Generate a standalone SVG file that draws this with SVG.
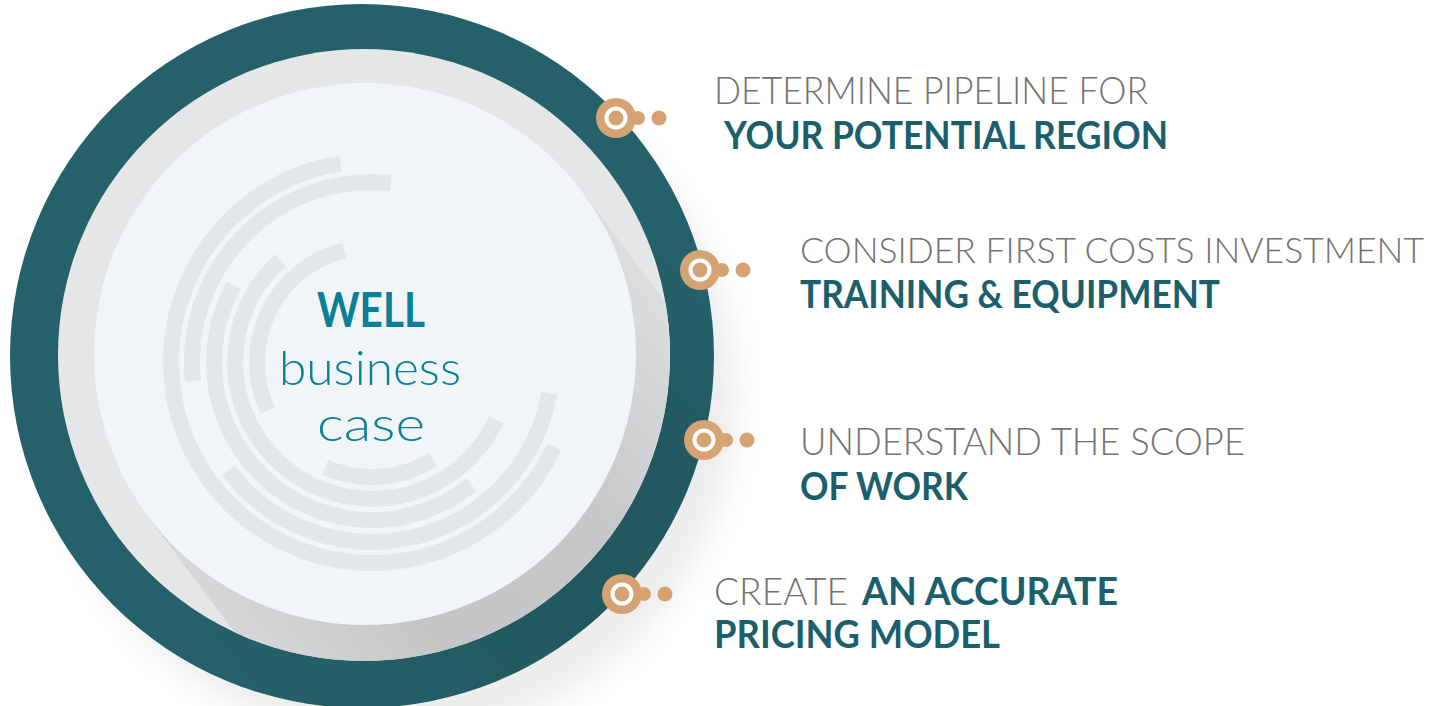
<svg xmlns="http://www.w3.org/2000/svg" width="1439" height="706" viewBox="0 0 1439 706">
<style>
.light{font-family:Lato,'Open Sans','Liberation Sans',sans-serif;font-weight:300;fill:#767171;font-size:38px}
.bold{font-family:Lato,'Open Sans','Liberation Sans',sans-serif;font-weight:700;fill:#1b5e6c;font-size:38px}
.ctr{fill:#0a7f99}
.arc{fill:none;stroke:#e3e7ea;stroke-width:16}
.big{fill:#d5a373}
.ring{fill:none;stroke:#ffffff;stroke-width:4}
</style>
<defs>
<clipPath id="clipGrey"><circle cx="364" cy="355" r="306"/></clipPath>
<clipPath id="clipTeal"><circle cx="362" cy="356" r="352"/></clipPath>
<linearGradient id="gInner" gradientUnits="userSpaceOnUse" x1="582" y1="191" x2="148" y2="517">
<stop offset="0" stop-color="#dcdddf"/>
<stop offset="0.35" stop-color="#c6c7c9"/>
<stop offset="0.7" stop-color="#c4c5c7"/>
<stop offset="1" stop-color="#d6d7d9"/>
</linearGradient>
<linearGradient id="gTeal" gradientUnits="userSpaceOnUse" x1="119" y1="539" x2="609" y2="171">
<stop offset="0" stop-color="#000" stop-opacity="0"/>
<stop offset="0.55" stop-color="#000" stop-opacity="0.1"/>
<stop offset="0.85" stop-color="#000" stop-opacity="0.08"/>
<stop offset="1" stop-color="#000" stop-opacity="0"/>
</linearGradient>
<filter id="blur" x="-30%" y="-30%" width="160%" height="160%"><feGaussianBlur stdDeviation="16"/></filter>
</defs>

<g id="disc">
<circle cx="392" cy="396" r="345" fill="#000" opacity="0.07" filter="url(#blur)"/>
<circle cx="362" cy="356" r="352" fill="#25616a"/>
<path d="M609,171 L909,571 L419,939 L119,539 Z" fill="url(#gTeal)" clip-path="url(#clipTeal)"/>
<circle cx="364" cy="355" r="306" fill="#e5e6e8"/>
<path d="M582,191 L822,511 L388,837 L148,517 Z" fill="url(#gInner)" clip-path="url(#clipGrey)"/>
<circle cx="365" cy="354" r="271" fill="#f1f5f8"/>
</g>

<g id="arcs">
<path class="arc" d="M554.2,446.9 A201,201 0 1 1 340.6,163.5"/>
<path class="arc" d="M549.3,393.2 A180,180 0 0 1 228.3,470.3"/>
<path class="arc" d="M193.0,380.8 A180,180 0 0 1 390.8,183.0"/>
<path class="arc" d="M471.4,484.8 A158,158 0 0 1 233.8,285.4"/>
<path class="arc" d="M496.2,419.9 A137,137 0 1 1 280.3,260.2"/>
<path class="arc" d="M432.9,459.5 A115,115 0 0 1 325.2,467.1"/>
<path class="arc" d="M267.8,410.6 A115,115 0 0 1 344.2,250.4"/>
</g>

<g id="center-title">
<text class="bold ctr" x="317" y="327" textLength="108" lengthAdjust="spacingAndGlyphs" style="font-size:47px">WELL</text>
<text class="light ctr" x="279" y="385" textLength="182" lengthAdjust="spacingAndGlyphs" style="font-size:48px">business</text>
<text class="light ctr" x="317" y="441" textLength="108" lengthAdjust="spacingAndGlyphs" style="font-size:48px">case</text>
</g>

<g id="connectors"></g>

<g id="item1">
<circle class="big" cx="616" cy="118" r="20"/>
<circle class="big" cx="638" cy="118" r="7"/>
<circle class="big" cx="659" cy="118" r="7.5"/>
<circle class="ring" cx="616" cy="118" r="9.5"/>
<text class="light" x="714" y="104" textLength="434" lengthAdjust="spacingAndGlyphs">DETERMINE PIPELINE FOR</text>
<text class="bold" x="724" y="149" textLength="444" lengthAdjust="spacingAndGlyphs">YOUR POTENTIAL REGION</text>
</g>

<g id="item2">
<circle class="big" cx="700" cy="270" r="20"/>
<circle class="big" cx="722" cy="270" r="7"/>
<circle class="big" cx="743" cy="270" r="7.5"/>
<circle class="ring" cx="700" cy="270" r="9.5"/>
<text class="light" x="800" y="263" textLength="624" lengthAdjust="spacingAndGlyphs" style="font-size:36px">CONSIDER FIRST COSTS INVESTMENT</text>
<text class="bold" x="800" y="308" textLength="420" lengthAdjust="spacingAndGlyphs">TRAINING &amp; EQUIPMENT</text>
</g>

<g id="item3">
<circle class="big" cx="704" cy="440" r="20"/>
<circle class="big" cx="726" cy="440" r="7"/>
<circle class="big" cx="747" cy="440" r="7.5"/>
<circle class="ring" cx="704" cy="440" r="9.5"/>
<text class="light" x="800" y="455" textLength="445" lengthAdjust="spacingAndGlyphs">UNDERSTAND THE SCOPE</text>
<text class="bold" x="800" y="500" textLength="168" lengthAdjust="spacingAndGlyphs">OF WORK</text>
</g>

<g id="item4">
<circle class="big" cx="622" cy="594" r="20"/>
<circle class="big" cx="644" cy="594" r="7"/>
<circle class="big" cx="665" cy="594" r="7.5"/>
<circle class="ring" cx="622" cy="594" r="9.5"/>
<text class="light" x="714" y="605" textLength="134" lengthAdjust="spacingAndGlyphs">CREATE</text>
<text class="bold" x="862" y="605" textLength="256" lengthAdjust="spacingAndGlyphs">AN ACCURATE</text>
<text class="bold" x="714" y="648" textLength="286" lengthAdjust="spacingAndGlyphs">PRICING MODEL</text>
</g>
</svg>
